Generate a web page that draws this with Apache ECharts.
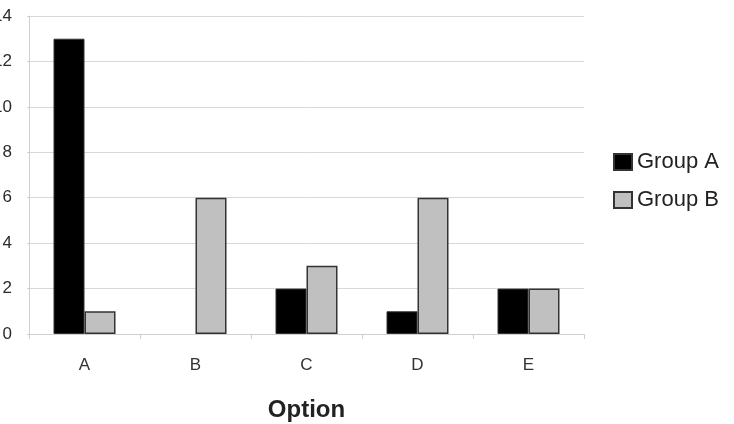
<!DOCTYPE html>
<html>
<head>
<meta charset="utf-8">
<script src="https://cdn.jsdelivr.net/npm/echarts@6/dist/echarts.min.js"></script>
<style>
html,body{margin:0;padding:0;background:#fff;}
#chart{width:734px;height:424px;}
</style>
</head>
<body>
<div id="chart"></div>
<script>
var categories = ['A', 'B', 'C', 'D', 'E']
var groupA = [13, 0, 2, 1, 2]
var groupB = [1, 6, 3, 6, 2]

// 0 值不画边框
function toBars(arr) {
	return arr.map(function (v) {
		return v === 0 ? { value: v, itemStyle: { borderWidth: 0 } } : v
	})
}

var chart = echarts.init(document.getElementById('chart'))

var option = {
	animation: false,
	backgroundColor: '#fff',
	grid: {
		left: 29,
		right: 150,
		top: 16,
		bottom: 90,
		containLabel: false,
		outerBoundsMode: 'none'
	},
	legend: {
		orient: 'vertical',
		left: 608,
		top: 146,
		itemWidth: 18,
		itemHeight: 16,
		itemGap: 16,
		icon: 'rect',
		textStyle: {
			color: '#222',
			fontFamily: 'Liberation Sans',
			fontSize: 22
		},
		data: ['Group A', 'Group B']
	},
	xAxis: {
		type: 'category',
		data: categories,
		name: 'Option',
		nameLocation: 'middle',
		nameGap: 64,
		nameTextStyle: {
			color: '#222',
			fontFamily: 'Liberation Sans',
			fontWeight: 'bold',
			fontSize: 24
		},
		axisLine: { lineStyle: { color: '#d0d0d0' } },
		axisTick: { show: true, length: 5, lineStyle: { color: '#d0d0d0' } },
		axisLabel: {
			color: '#333',
			fontFamily: 'Liberation Sans',
			fontSize: 17,
			margin: 23
		}
	},
	yAxis: {
		type: 'value',
		min: 0,
		max: 14,
		interval: 2,
		axisLine: { show: true, lineStyle: { color: '#d0d0d0' } },
		axisTick: { show: true, length: 2, lineStyle: { color: '#d0d0d0' } },
		splitLine: { lineStyle: { color: '#d8d8d8' } },
		axisLabel: {
			color: '#2a2a2a',
			fontFamily: 'Liberation Sans',
			fontSize: 17,
			margin: 17
		}
	},
	series: [
		{
			name: 'Group A',
			type: 'bar',
			data: toBars(groupA),
			barWidth: 31,
			barGap: '0%',
			itemStyle: { color: '#000', borderColor: '#333', borderWidth: 1 }
		},
		{
			name: 'Group B',
			type: 'bar',
			data: toBars(groupB),
			barWidth: 31,
			barGap: '0%',
			itemStyle: { color: '#c0c0c0', borderColor: '#333', borderWidth: 1.5 }
		}
	]
}

chart.setOption(option)
</script>
</body>
</html>
